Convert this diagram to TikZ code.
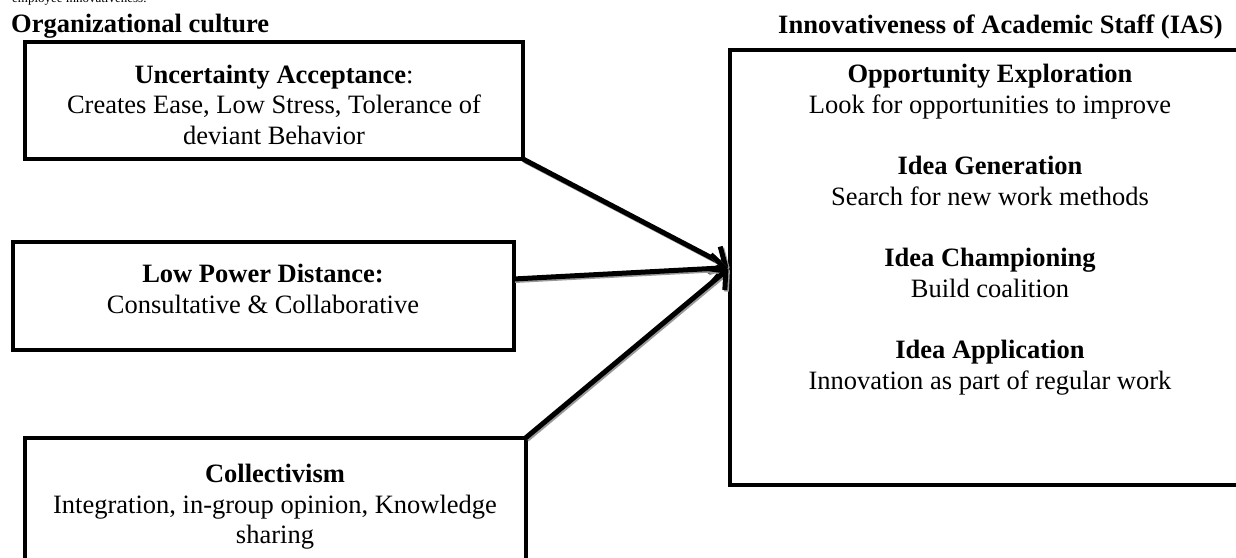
\documentclass[tikz,border=0pt]{standalone}
\usepackage{fontspec}
\setmainfont{Liberation Serif}
\usetikzlibrary{arrows.meta}

\begin{document}
\begin{tikzpicture}[x=1pt,y=-1pt,>={Straight Barb[length=13pt,width=28pt]}]

\tikzstyle{frame}=[rectangle,draw=black,line width=4pt,inner sep=0pt,outer sep=0pt]
\tikzstyle{txt}=[align=center,inner sep=0pt,anchor=north,font=\fontsize{26.5}{30.7}\selectfont]
\tikzstyle{head}=[inner sep=0pt,font=\fontsize{26.5}{30.7}\selectfont\bfseries]
\tikzstyle{link}=[->,line width=5pt,line join=round,shorten >=2pt,preaction={draw=black!40,line width=5pt,transform canvas={shift={(1.5pt,-1.5pt)}}}]

\useasboundingbox (0,0) rectangle (1236,557);
\clip (0,0) rectangle (1236,557);

\node[inner sep=0pt,anchor=base west,font=\fontsize{13}{15}\selectfont] (intro) at (12,2.5) {employee innovativeness.};
\node[head,anchor=base west] (culture) at (11,32) {Organizational culture};
\node[head,anchor=base east] (ias) at (1223,33) {Innovativeness of Academic Staff (IAS)};

% left boxes
\node[frame,minimum width=498pt,minimum height=117pt] (uab) at (274,100.5) {};
\node[txt] (ua) at (274,64.5) {\textbf{Uncertainty Acceptance}:\\Creates Ease, Low Stress, Tolerance of\\deviant Behavior};

\node[frame,minimum width=501pt,minimum height=108pt] (pdb) at (263,296) {};
\node[txt] (pd) at (263,264) {\textbf{Low Power Distance:}\\Consultative \& Collaborative};

\node[frame,minimum width=501pt,minimum height=170pt] (colb) at (275,523) {};
\node[txt] (col) at (275,464) {\textbf{Collectivism}\\Integration, in-group opinion, Knowledge\\sharing};

% right box
\node[frame,minimum width=520pt,minimum height=435pt] (iasb) at (990,267.5) {};
\node[txt] (dims) at (990,64) {\textbf{Opportunity Exploration}\\Look for opportunities to improve\\[30.7pt]
\textbf{Idea Generation}\\Search for new work methods\\[30.7pt]
\textbf{Idea Championing}\\Build coalition\\[30.7pt]
\textbf{Idea Application}\\Innovation as part of regular work};

\draw[link] (uab.south east) -- (iasb.west);
\draw[link] ([yshift=17pt]pdb.east) -- (iasb.west);
\draw[link] (colb.north east) -- (iasb.west);
\end{tikzpicture}
\end{document}
